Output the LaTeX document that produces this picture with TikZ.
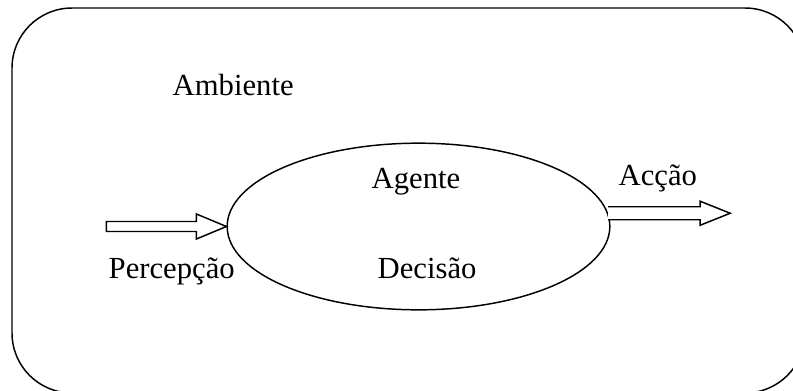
\documentclass[tikz,border=0pt]{standalone}
\usepackage{fontspec}
\setmainfont{Liberation Serif}
\usetikzlibrary{shapes.geometric,calc}
\tikzset{
	labeltext/.style={font=\fontsize{23}{27}\selectfont, inner sep=0pt, anchor=base west},
	blockarrow/.style={draw, fill=white, line join=miter},
}
\begin{document}
\begin{tikzpicture}[x=0.75pt, y=-0.75pt, line width=1.1pt]
	\useasboundingbox (0,0) rectangle (793,390);
	% environment box
	\begin{scope}
	\clip (0,0) rectangle (793,390);
	\draw[rounded corners=45pt] (12,8) rectangle (805,393);
	\end{scope}
	\node[labeltext] (ambiente) at (172,95) {Ambiente};
	
	% agent
	\node[draw, ellipse, minimum width=287pt, minimum height=125pt, inner sep=0pt] (agente) at (418.5,226.5) {};
	\node[labeltext] (agentetxt) at (371,188) {Agente};
	\node[labeltext] (decisao) at (377,278) {Decisão};
	
	% perception in
	\coordinate (intip) at (agente.west);
	\draw[blockarrow] ($(intip)+(-120,-5)$) -- ($(intip)+(-30,-5)$) -- ($(intip)+(-30,-12.5)$)
		-- (intip) -- ($(intip)+(-30,12.5)$) -- ($(intip)+(-30,5)$) -- ($(intip)+(-120,5)$) -- cycle;
	\node[labeltext] (percepcao) at (108,278) {Percepção};
	
	% action out
	\coordinate (outtail) at (agente.4);
	\draw[blockarrow] ($(outtail)+(0,-6.5)$) -- ($(outtail)+(92,-6.5)$) -- ($(outtail)+(92,-12)$)
		-- ($(outtail)+(122,0)$) -- ($(outtail)+(92,12)$) -- ($(outtail)+(92,6.5)$) -- ($(outtail)+(0,6.5)$);
	\node[labeltext] (accao) at (618,185) {Acção};
\end{tikzpicture}
\end{document}
